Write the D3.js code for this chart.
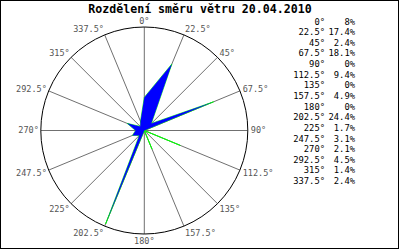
<!DOCTYPE html>
<html>
<head>
<meta charset="utf-8">
<script src="https://cdn.jsdelivr.net/npm/d3@7"></script>
<style>
  body { margin: 0; background: #fff; }
  svg { display: block; }
</style>
</head>
<body>
<div id="chart"></div>
<script>
// wind direction (deg) and share of time (%)
const directions = [0, 22.5, 45, 67.5, 90, 112.5, 135, 157.5, 180, 202.5, 225, 247.5, 270, 292.5, 315, 337.5];
const percents = [8, 17.4, 2.4, 18.1, 0, 9.4, 0, 4.9, 0, 24.4, 1.7, 3.1, 2.1, 4.5, 1.4, 2.4];
const title = "Rozdělení směru větru 20.04.2010";
const maxPercent = 25;

const width = 400, height = 250;
const cx = 144.3, cy = 130.5, R = 103.5;
const mono = "'DejaVu Sans Mono', monospace";

const svg = d3.select("#chart")
  .append("svg")
  .attr("width", width)
  .attr("height", height);

svg.append("rect")
  .attr("x", 0.5).attr("y", 0.5)
  .attr("width", 398).attr("height", 248)
  .attr("fill", "#fff")
  .attr("stroke", "#000");

svg.append("text")
  .attr("x", 200)
  .attr("y", 13)
  .attr("text-anchor", "middle")
  .style("font", `bold 11.6px ${mono}`)
  .text(title);

const r = d3.scaleLinear().domain([0, maxPercent]).range([0, R]);
const rad = d => d * Math.PI / 180;

const g = svg.append("g").attr("transform", `translate(${cx},${cy})`);

// spokes
g.selectAll("line.spoke")
  .data(directions)
  .enter().append("line")
  .attr("class", "spoke")
  .attr("x1", 0).attr("y1", 0)
  .attr("x2", d => R * Math.sin(rad(d)))
  .attr("y2", d => -R * Math.cos(rad(d)))
  .attr("stroke", "#707070")
  .attr("stroke-width", 1);

g.append("circle")
  .attr("r", R)
  .attr("fill", "none")
  .attr("stroke", "#000")
  .attr("stroke-width", 1);

// angle labels
g.selectAll("text.lbl")
  .data(directions)
  .enter().append("text")
  .attr("class", "lbl")
  .attr("x", d => {
    let s = Math.sin(rad(d));
    return s > 0.1 ? (R + 3) * s : s < -0.1 ? (R + 2) * s : 0;
  })
  .attr("y", d => {
    let c = Math.cos(rad(d));
    return c > 0 ? -(R + 6) * c : -(R + 7) * c;
  })
  .attr("dy", "0.35em")
  .attr("text-anchor", d => {
    let s = Math.sin(rad(d));
    return s > 0.1 ? "start" : s < -0.1 ? "end" : "middle";
  })
  .attr("fill", "#555")
  .style("font", `8.5px ${mono}`)
  .text(d => d + "°");

// rose polygon
const pts = directions.map((d, i) => [rad(d), r(percents[i])]);
const rose = d3.lineRadial().curve(d3.curveLinearClosed);

g.append("path")
  .attr("d", rose(pts))
  .attr("fill", "none")
  .attr("stroke", "#00ff00")
  .attr("stroke-width", 0.8);

g.append("path")
  .attr("d", rose(pts))
  .attr("fill", "#0000ff")
  .attr("stroke", "none");

// legend table
const rowY = d3.scaleLinear().domain([0, 15]).range([21.5, 181]);

svg.selectAll("text.ang")
  .data(directions)
  .enter().append("text")
  .attr("class", "ang")
  .attr("x", 325)
  .attr("y", (d, i) => rowY(i))
  .attr("dy", "0.35em")
  .attr("text-anchor", "end")
  .style("font", `8.8px ${mono}`)
  .text(d => d + "°");

svg.selectAll("text.pct")
  .data(percents)
  .enter().append("text")
  .attr("class", "pct")
  .attr("x", 355)
  .attr("y", (d, i) => rowY(i))
  .attr("dy", "0.35em")
  .attr("text-anchor", "end")
  .style("font", `8.8px ${mono}`)
  .text(d => d + "%");
</script>
</body>
</html>
